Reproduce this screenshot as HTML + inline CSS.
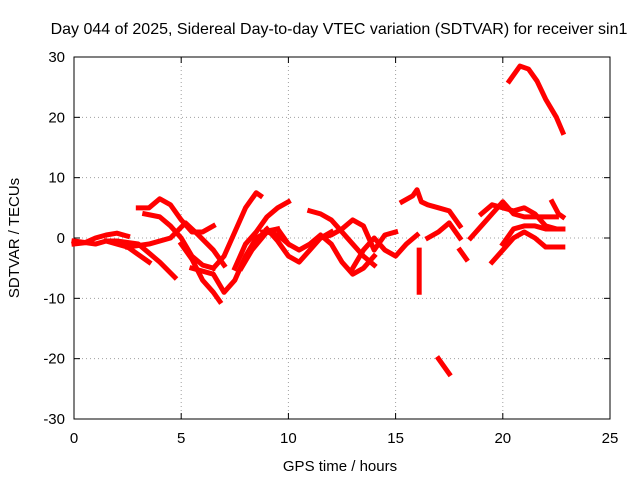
<!DOCTYPE html>
<html><head><meta charset="utf-8"><style>
body{margin:0;background:#fff}
svg{display:block;font-family:"Liberation Sans",sans-serif}
</style></head><body>
<svg id="chart" width="640" height="480" viewBox="0 0 640 480">
<text x="339" y="34" font-size="16" text-anchor="middle">Day 044 of 2025, Sidereal Day-to-day VTEC variation (SDTVAR) for receiver sin1</text>
<g id="grid"></g>
<g id="axes"></g>
<g id="series"></g>
<text x="340" y="471" font-size="15" text-anchor="middle">GPS time / hours</text>
<text transform="translate(19,238) rotate(-90)" font-size="15" text-anchor="middle">SDTVAR / TECUs</text>
</svg>
<script>
const xTicks=[0,5,10,15,20,25];
const yTicks=[-30,-20,-10,0,10,20,30];
const s1=[[0,-1],[0.5,-0.8],[1,0],[1.5,0.5],[2,0.8],[2.5,0.3]];
const s2=[[0,-0.5],[1,-1],[1.5,-0.5],[2,-0.5],[3,-1],[3.5,-2.5],[4,-4],[4.7,-6.5]];
const s3=[[1.5,-0.5],[2.5,-1.5],[3.5,-4]];
const s4=[[2.5,-1.5],[3.5,-1],[4.5,0],[5.2,2.5],[5.8,0.5],[6.5,-2],[7,-4.5]];
const s5=[[3,5],[3.5,5],[4,6.5],[4.5,5.5],[5,3],[5.5,1],[6,1],[6.5,2]];
const s6=[[3.3,4],[4,3.5],[4.5,2],[5,0],[5.5,-3],[6,-4.5],[6.5,-5]];
const s7=[[5,-1],[5.5,-3.5],[6,-7],[6.5,-9],[6.8,-10.5]];
const s8=[[5.5,-5],[6.5,-6],[7,-9],[7.5,-7],[8,-3],[8.5,0],[9,1],[9.5,1.5]];
const s9=[[6.5,-5],[7,-3],[7.5,1],[8,5],[8.5,7.5],[8.7,7]];
const s10=[[7.5,-5],[8,-1],[8.5,1],[9,3.5],[9.5,5],[10,6]];
const s11=[[7.8,-5],[8.3,-2],[9,1],[9.5,0.5],[10,-1]];
const s12=[[9,1.5],[9.5,-0.5],[10,-3],[10.5,-4],[11,-2],[11.5,0],[12,1]];
const s13=[[8.8,1],[9.5,1.5],[10,-1],[10.5,-2],[11,-1],[11.5,0.5],[12,-1],[12.5,-4],[13,-6],[13.5,-5],[14,-3]];
const s14=[[11,4.5],[11.5,4],[12,3],[12.5,1],[13,-1],[13.5,-3],[14,-4.5]];
const s15=[[11.5,0],[12,0.5],[12.5,1.5],[13,3],[13.5,2],[14,-2],[14.5,0.5],[15,1]];
const s16=[[13,-5],[13.5,-2],[14,0],[14.5,-2],[15,-3],[15.5,-1],[16,0.5]];
const s17=[[15.3,6],[15.8,7],[16,8],[16.2,6],[16.5,5.5],[17,5],[17.5,4.5],[18,2]];
const s18=[[16.1,-2],[16.1,-9]];
const s19=[[17,-20],[17.5,-22.5]];
const s20=[[16.5,0],[17,1],[17.5,2.5],[18,0]];
const s21=[[18.5,0],[19,2],[19.5,4],[20,6],[20.5,4],[21,3.5],[22,3.5],[22.5,3.5]];
const s22=[[19,4],[19.5,5.5],[20,5],[20.5,4.5],[21,5],[21.5,4],[22,2],[22.5,1.5],[22.8,1.5]];
const s23=[[19.5,-4],[20,-2],[20.5,0],[21,1],[21.5,0],[22,-1.5],[22.5,-1.5],[22.8,-1.5]];
const s24=[[20,-1],[20.5,1.5],[21,2],[21.5,2],[22,1.5],[22.8,1.5]];
const s25=[[20.3,26],[20.8,28.5],[21.2,28],[21.6,26],[22,23],[22.5,20],[22.8,17.5]];
const s26=[[22.3,6],[22.6,4],[22.8,3.5]];
const s27=[[18,-2],[18.3,-3.5]];
const allSeries=[s1,s2,s3,s4,s5,s6,s7,s8,s9,s10,s11,s12,s13,s14,s15,s16,s17,s18,s19,s20,s21,s22,s23,s24,s25,s26,s27];

const X0=74,X1=610,Y0=419,Y1=57;
const xs=v=>X0+(v-0)/(25-0)*(X1-X0);
const ys=v=>Y0-(v+30)/60*(Y0-Y1);
const NS="http://www.w3.org/2000/svg";
function mk(tag,attrs,parent){const e=document.createElementNS(NS,tag);for(const k in attrs)e.setAttribute(k,attrs[k]);parent.appendChild(e);return e;}
const grid=document.getElementById('grid'),axes=document.getElementById('axes'),ser=document.getElementById('series');
xTicks.forEach(t=>{
  const x=xs(t);
  if(t>0&&t<25){const g=mk('line',{x1:x,x2:x,y1:Y0,y2:Y1,stroke:'#a0a0a0','stroke-dasharray':'1,3','stroke-width':1},grid);
  }
  mk('line',{x1:x,x2:x,y1:Y0,y2:Y0-6,stroke:'#000'},axes);
  mk('line',{x1:x,x2:x,y1:Y1,y2:Y1+6,stroke:'#000'},axes);
  const l=mk('text',{x:x,y:Y0+24,'font-size':15,'text-anchor':'middle'},axes);l.textContent=t;
  
});
yTicks.forEach(t=>{
  const y=ys(t);
  if(t>-30&&t<30){const g=mk('line',{x1:X0,x2:X1,y1:y,y2:y,stroke:'#a0a0a0','stroke-dasharray':'1,3','stroke-width':1},grid);
  }
  mk('line',{x1:X0,x2:X0+6,y1:y,y2:y,stroke:'#000'},axes);
  mk('line',{x1:X1,x2:X1-6,y1:y,y2:y,stroke:'#000'},axes);
  const l=mk('text',{x:X0-9,y:y+5,'font-size':15,'text-anchor':'end'},axes);l.textContent=t;
  
});
mk('rect',{x:X0,y:Y1,width:X1-X0,height:Y0-Y1,fill:'none',stroke:'#000'},axes);
allSeries.forEach((s,i)=>{
  const p=mk('polyline',{points:s.map(d=>xs(d[0])+','+ys(d[1])).join(' '),fill:'none',stroke:'#f00','stroke-width':5,'stroke-linejoin':'round','stroke-linecap':'square'},ser);
  
  
});
</script>
</body></html>
